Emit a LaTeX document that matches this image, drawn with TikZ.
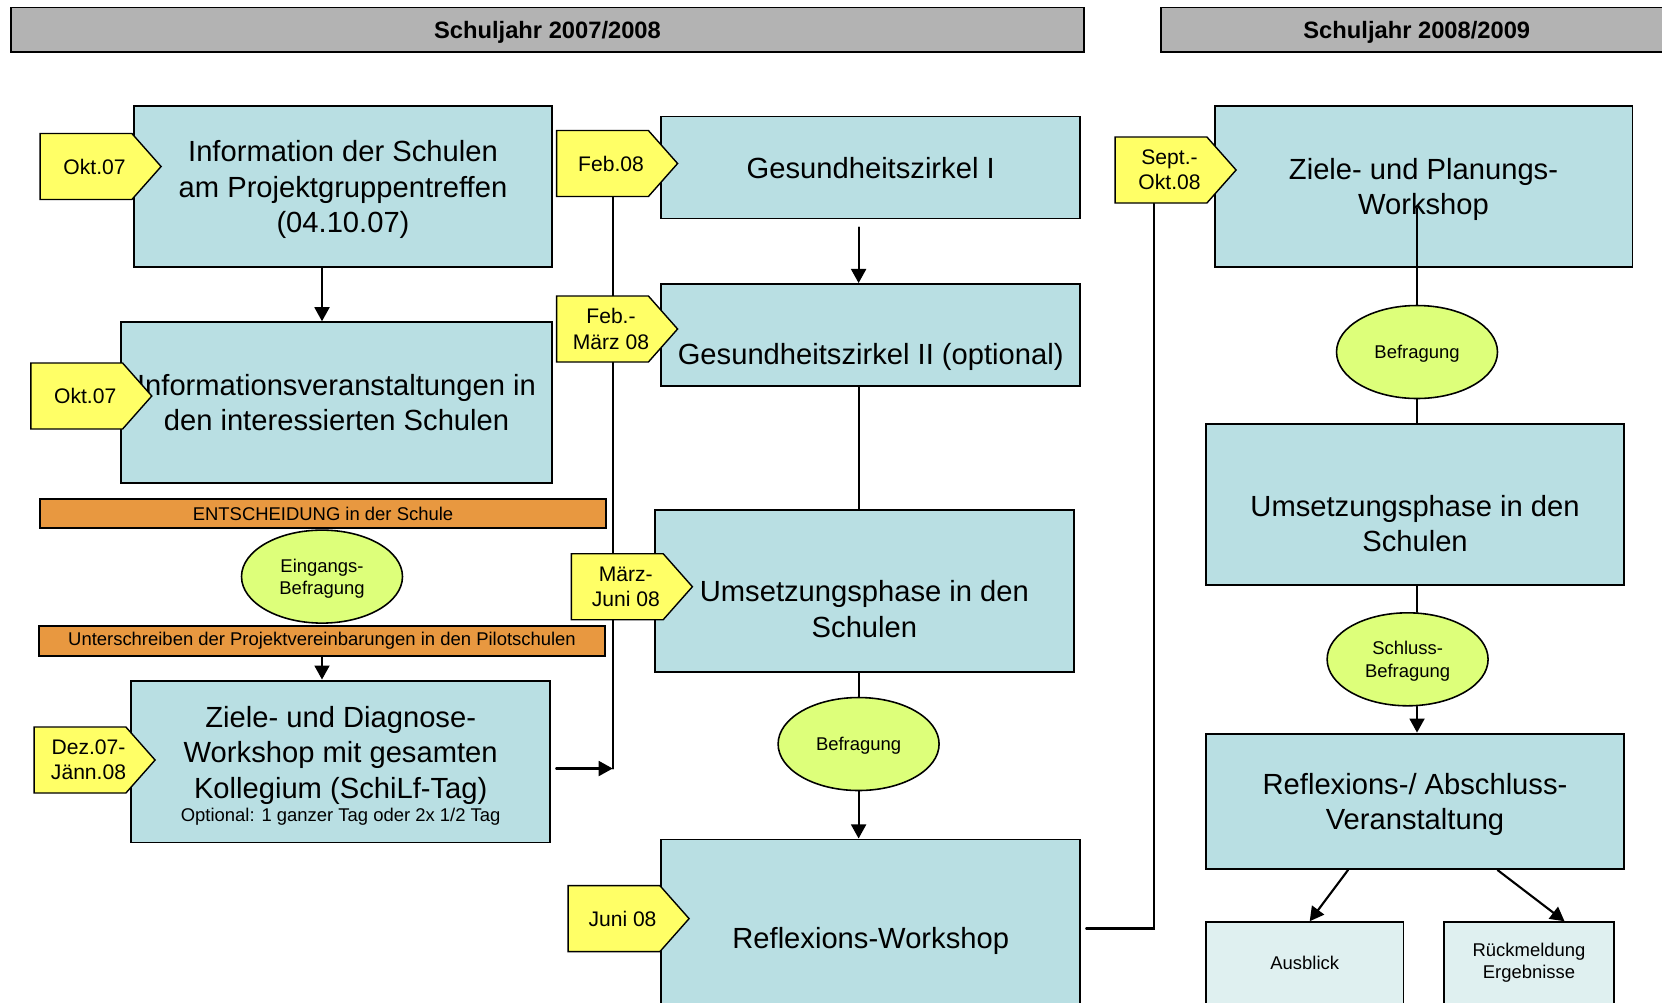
\documentclass[tikz,border=0pt]{standalone}
\usepackage{fontspec}
\setmainfont{Liberation Sans}
\usetikzlibrary{arrows.meta,shapes.geometric,shapes.symbols}

\definecolor{boxblue}{RGB}{185,223,227}
\definecolor{tagyellow}{RGB}{255,255,102}
\definecolor{pollgreen}{RGB}{221,255,122}
\definecolor{barorange}{RGB}{232,152,64}
\definecolor{headgray}{RGB}{179,179,179}
\definecolor{outblue}{RGB}{223,240,240}

\newcommand{\bigtext}{\fontsize{16.6}{20}\selectfont}
\newcommand{\tagtext}{\fontsize{12}{14.4}\selectfont}
\newcommand{\smalltext}{\fontsize{10.5}{12.6}\selectfont}
\newcommand{\headtext}{\bfseries\fontsize{13.5}{16}\selectfont}

\begin{document}
\begin{tikzpicture}[x=0.02cm,y=-0.02cm,line cap=round,
    box/.style={draw,line width=1.1pt,fill=boxblue,minimum width=8.38cm,minimum height=3.22cm,inner sep=0pt,text depth=0pt,align=center,font=\bigtext},
    tag/.style={signal,signal to=east,signal pointer angle=97,draw,line width=0.8pt,fill=tagyellow,minimum width=2.42cm,minimum height=1.32cm,inner sep=0pt,
      label={[align=center,font=\tagtext,xshift=0.17cm]center:#1}},
    poll/.style={ellipse,draw,line width=0.9pt,fill=pollgreen,minimum width=3.22cm,minimum height=1.86cm,inner sep=0pt,text depth=0pt,align=center,font=\smalltext},
    bar/.style={draw,line width=0.8pt,fill=barorange,minimum width=11.32cm,minimum height=0.58cm,inner sep=0pt,font=\smalltext},
    head/.style={draw,line width=0.8pt,fill=headgray,minimum height=0.89cm,inner sep=0pt,text depth=0pt,font=\headtext},
    outcome/.style={draw,line width=0.9pt,fill=outblue,minimum height=1.64cm,inner sep=0pt,align=center,font=\smalltext},
    txt/.style={align=center,text depth=0pt,font=\bigtext},
    link/.style={line width=1.2pt},
    arr/.style={line width=1.2pt,-{Triangle[width=8.5pt,length=8pt]}}]
  \useasboundingbox (0,0) rectangle (1662,1002);

  \node[head,minimum width=21.46cm] (year1) at (547.5,29.7) {Schuljahr 2007/2008};
  \node[head,minimum width=10.24cm] (year2) at (1416.8,29.7) {Schuljahr 2008/2009};

  \node[box,minimum width=8.36cm] (info) at (343,186.5) {Information der Schulen\\am Projektgruppentreffen\\(04.10.07)};
  \node[box,minimum width=8.62cm] (veran) at (336.5,402.7) {Informationsveranstaltungen in\\den interessierten Schulen};
  \node[bar] (entsch) at (323,513.5) {ENTSCHEIDUNG in der Schule};
  \node[poll] (eing) at (322,576.6) {Eingangs-\\Befragung};
  \node[bar,minimum height=0.6cm] (unter) at (322,641) {Unterschreiben der Projektvereinbarungen in den Pilotschulen};
  \node[box,minimum height=3.24cm] (diag) at (340.7,761.5) {};
  \node[txt] (diagT) at (340.7,752.3) {Ziele- und Diagnose-\\Workshop mit gesamten\\Kollegium (SchiLf-Tag)};
  \node[font=\smalltext,text depth=0pt] (diagS) at (340.7,815) {Optional: 1 ganzer Tag oder 2x 1/2 Tag};

  \node[box,minimum height=2.04cm] (gz1) at (870.7,167.5) {Gesundheitszirkel I};
  \node[box,minimum height=2.04cm] (gz2) at (870.7,335) {};
  \node[txt] (gz2T) at (870.7,354) {Gesundheitszirkel II (optional)};
  \node[box,minimum height=3.24cm] (ums1) at (864.4,591) {};
  \node[txt] (ums1T) at (864.4,608.9) {Umsetzungsphase in den\\Schulen};
  \node[poll] (bef1) at (858.6,744) {Befragung};
  \node[box,minimum height=3.29cm] (refl) at (870.7,921.7) {};
  \node[txt] (reflT) at (870.7,938) {Reflexions-Workshop};

  \node[box,minimum width=8.36cm] (plan) at (1423.5,186.5) {Ziele- und Planungs-\\Workshop};
  \node[poll] (bef2) at (1417,352) {Befragung};
  \node[box,minimum width=8.36cm] (ums2) at (1415,504.6) {};
  \node[txt] (ums2T) at (1415,523) {Umsetzungsphase in den\\Schulen};
  \node[poll] (schluss) at (1407.6,659.3) {Schluss-\\Befragung};
  \node[box,minimum width=8.36cm,minimum height=2.71cm] (absch) at (1415,801.3) {Reflexions-/ Abschluss-\\Veranstaltung};
  \node[outcome,minimum width=3.95cm] (ausbl) at (1304.7,963) {Ausblick};
  \node[outcome,minimum width=3.41cm] (rueck) at (1529,963) {Rückmeldung\\Ergebnisse};

  \coordinate (ltop) at (612.7,197);
  \coordinate (lbot) at (612.7,768.5);
  \coordinate (lturn) at (1154.3,928.5);
  \coordinate (rtop) at (1154.3,203.5);
  \coordinate (pstub) at (1417,208);

  \draw[arr] (eing |- info.south) -- (eing |- veran.north);
  \draw[arr] (unter.south) -- (unter.south |- diag.north);
  \draw[link] (ltop) -- (lbot);
  \draw[arr] ([xshift=0.1cm]diag.east |- lbot) -- (lbot);
  \draw[arr,shorten <=0.16cm] (bef1 |- gz1.south) -- (bef1 |- gz2.north);
  \draw[link] (bef1 |- gz2.south) -- (bef1 |- ums1.north);
  \draw[link] (bef1 |- ums1.south) -- (bef1.north);
  \draw[arr] (bef1.south) -- (bef1 |- refl.north);
  \draw[link] ([xshift=0.1cm]refl.east |- lturn) -- (lturn) -- (rtop);
  \draw[link] (pstub) -- (bef2.north);
  \draw[link] (bef2.south) -- (bef2 |- ums2.north);
  \draw[link] (bef2 |- ums2.south) -- (bef2 |- schluss.north);
  \draw[arr] (bef2 |- schluss.south) -- (bef2 |- absch.north);
  \draw[arr] ([xshift=-1.34cm]absch.south) -- ([xshift=0.1cm]ausbl.north);
  \draw[arr] ([xshift=1.65cm]absch.south) -- ([xshift=0.71cm]rueck.north);

  \node[tag={Okt.07}] (okt1) at (86,166.5) {};
  \node[tag={Okt.07}] (okt2) at (76.7,396) {};
  \node[tag={Dez.07-\\Jänn.08}] (dez) at (80,760) {};
  \node[tag={Feb.08}] (feb) at (602.5,163.5) {};
  \node[tag={Feb.-\\März 08}] (febm) at (602.5,329) {};
  \node[tag={März-\\Juni 08}] (mjun) at (617.3,586.7) {};
  \node[tag={Juni 08}] (jun) at (614,918.6) {};
  \node[tag={Sept.-\\Okt.08}] (sept) at (1161,170) {};
\end{tikzpicture}
\end{document}
